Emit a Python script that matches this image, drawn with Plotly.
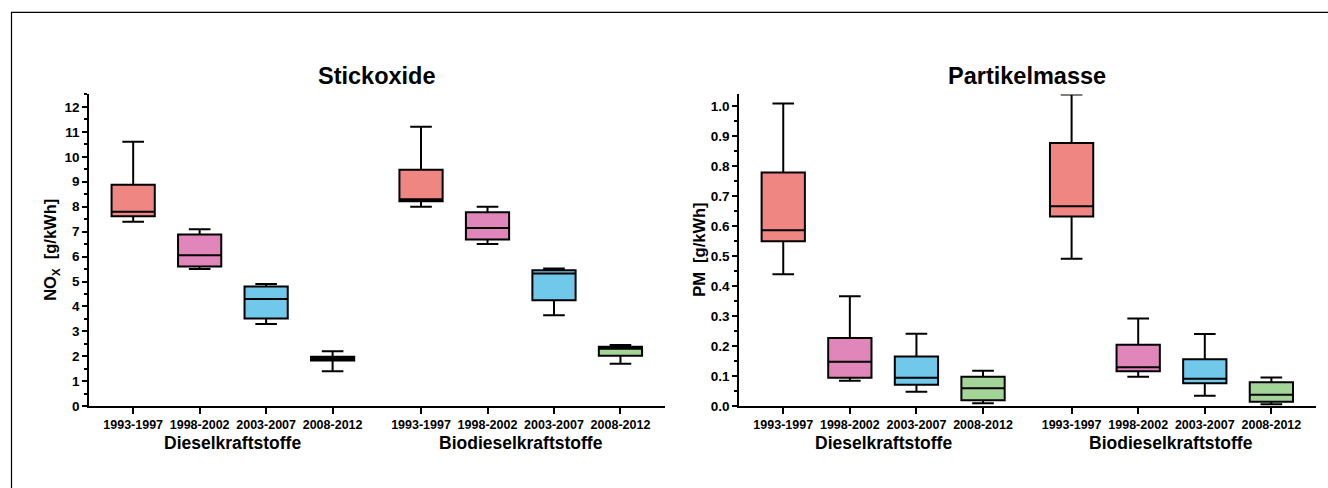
import plotly.graph_objects as go

W, H = 1328, 488

periods = ["1993-1997", "1998-2002", "2003-2007", "2008-2012"]
groups = ["Dieselkraftstoffe", "Biodieselkraftstoffe"]
colors = ["#F08682", "#E086BA", "#70C9EB", "#A3D598"]

# NOx [g/kWh] — Diesel then Biodiesel, each per period
nox_min    = [7.40, 5.50, 3.30, 1.40,   8.00, 6.50, 3.65, 1.70]
nox_q1     = [7.62, 5.60, 3.52, 1.83,   8.22, 6.68, 4.25, 2.02]
nox_median = [7.80, 6.05, 4.30, 1.90,   8.30, 7.15, 5.32, 2.30]
nox_q3     = [8.88, 6.88, 4.80, 1.98,   9.48, 7.78, 5.45, 2.38]
nox_max    = [10.6, 7.10, 4.90, 2.20,   11.2, 8.00, 5.52, 2.45]

# PM [g/kWh]
pm_min    = [0.440, 0.085, 0.048, 0.010,   0.492, 0.098, 0.035, 0.007]
pm_q1     = [0.550, 0.095, 0.072, 0.020,   0.633, 0.117, 0.077, 0.015]
pm_median = [0.587, 0.148, 0.095, 0.060,   0.667, 0.130, 0.092, 0.038]
pm_q3     = [0.780, 0.228, 0.166, 0.098,   0.878, 0.205, 0.157, 0.080]
pm_max    = [1.010, 0.367, 0.242, 0.118,   1.040, 0.293, 0.241, 0.096]

GAP = 0.33
positions = []
labels = []
for gi, g in enumerate(groups):
    for pi, p in enumerate(periods):
        positions.append(gi * (len(periods) + GAP) + pi)
        labels.append(p)

fig = go.Figure()

def add_boxes(xa, ya, mn, q1, med, q3, mx):
    for i, x in enumerate(positions):
        fig.add_trace(go.Box(
            x=[x], q1=[q1[i]], median=[med[i]], q3=[q3[i]],
            lowerfence=[mn[i]], upperfence=[mx[i]],
            width=0.65, whiskerwidth=0.5,
            fillcolor=colors[i % 4],
            line=dict(color="black", width=2),
            xaxis=xa, yaxis=ya, showlegend=False, boxpoints=False,
            hoverinfo="skip",
        ))

add_boxes("x", "y", nox_min, nox_q1, nox_median, nox_q3, nox_max)
add_boxes("x2", "y2", pm_min, pm_q1, pm_median, pm_q3, pm_max)

ydom = [(H - 413) / H, (H - 96) / H]
xdom1 = [89.3 / W, 665 / W]
xdom2 = [739.3 / W, 1316 / W]
xr = [-0.66, positions[-1] + 0.67]

FAM = "Liberation Sans, Arial"
tickfont = dict(family=FAM, size=12.5, color="black", weight="bold")
yfont = dict(family=FAM, size=13.5, color="black", weight="bold")

common_x = dict(range=xr, tickvals=positions, ticktext=labels, showline=True, linecolor="black",
                linewidth=2, ticks="outside", ticklen=6, tickwidth=2, tickcolor="black",
                showgrid=False, zeroline=False, tickfont=tickfont, fixedrange=True)
common_y = dict(showline=True, linecolor="black", linewidth=2, ticks="outside", ticklen=5,
                tickwidth=2, tickcolor="black", showgrid=False, zeroline=False, tickfont=yfont,
                domain=ydom)

fig.update_layout(
    width=W, height=H, autosize=False,
    margin=dict(l=0, r=0, t=0, b=0),
    paper_bgcolor="white", plot_bgcolor="white",
    boxmode="overlay",
    xaxis=dict(domain=xdom1, anchor="y", **common_x),
    yaxis=dict(range=[0, 12.5], tickvals=list(range(0, 13)), anchor="x",
               minor=dict(dtick=0.5, ticks="outside", ticklen=3, tickwidth=1.5, tickcolor="black"),
               **common_y),
    xaxis2=dict(domain=xdom2, anchor="y2", **common_x),
    yaxis2=dict(range=[0, 1.04], tickvals=[i / 10 for i in range(11)], tickformat=".1f", anchor="x2",
                minor=dict(dtick=0.05, ticks="outside", ticklen=3, tickwidth=1.5, tickcolor="black"),
                **common_y),
    font=dict(family=FAM, color="black"),
)

def px(x):
    return x / W

def py(y):
    return (H - y) / H

ann = []
bold = dict(family=FAM, color="black", weight="bold")
def add_text(text, x, y, size, angle=0):
    ann.append(dict(text=text, x=px(x), y=py(y), xref="paper", yref="paper",
                    xanchor="center", yanchor="middle", showarrow=False,
                    textangle=angle, font=dict(size=size, **bold)))

add_text("Stickoxide", 377, 77, 23.5)
add_text("Partikelmasse", 1027, 77, 23.5)
add_text("NO<sub>X</sub>  [g/kWh]", 51, 254, 16.5, -90)
add_text("PM  [g/kWh]", 699, 254, 16.5, -90)

def group_centers(xa_dom):
    out = []
    for gi in range(len(groups)):
        c = sum(positions[gi * 4:(gi + 1) * 4]) / 4
        frac = (c - xr[0]) / (xr[1] - xr[0])
        out.append(xa_dom[0] + frac * (xa_dom[1] - xa_dom[0]))
    return out

for dom in (xdom1, xdom2):
    for gi, c in enumerate(group_centers(dom)):
        add_text(groups[gi], c * W, 450, 17.5)

fig.update_layout(annotations=ann)

fig.add_shape(type="rect", xref="paper", yref="paper", x0=px(11.5), x1=1.05, y0=-0.05, y1=py(12.5),
              line=dict(color="black", width=1.2), fillcolor="rgba(0,0,0,0)", layer="above")

post = (
    "document.documentElement.style.margin='0';"
    "document.documentElement.style.overflow='hidden';"
    "document.body.style.margin='0';document.body.style.padding='0';"
    "document.body.style.overflow='hidden';"
    "var g=document.getElementById('{plot_id}');"
    "g.style.position='fixed';g.style.top='0px';g.style.left='0px';"
)
fig.write_html("out.html", post_script=post, config={"displayModeBar": False})
